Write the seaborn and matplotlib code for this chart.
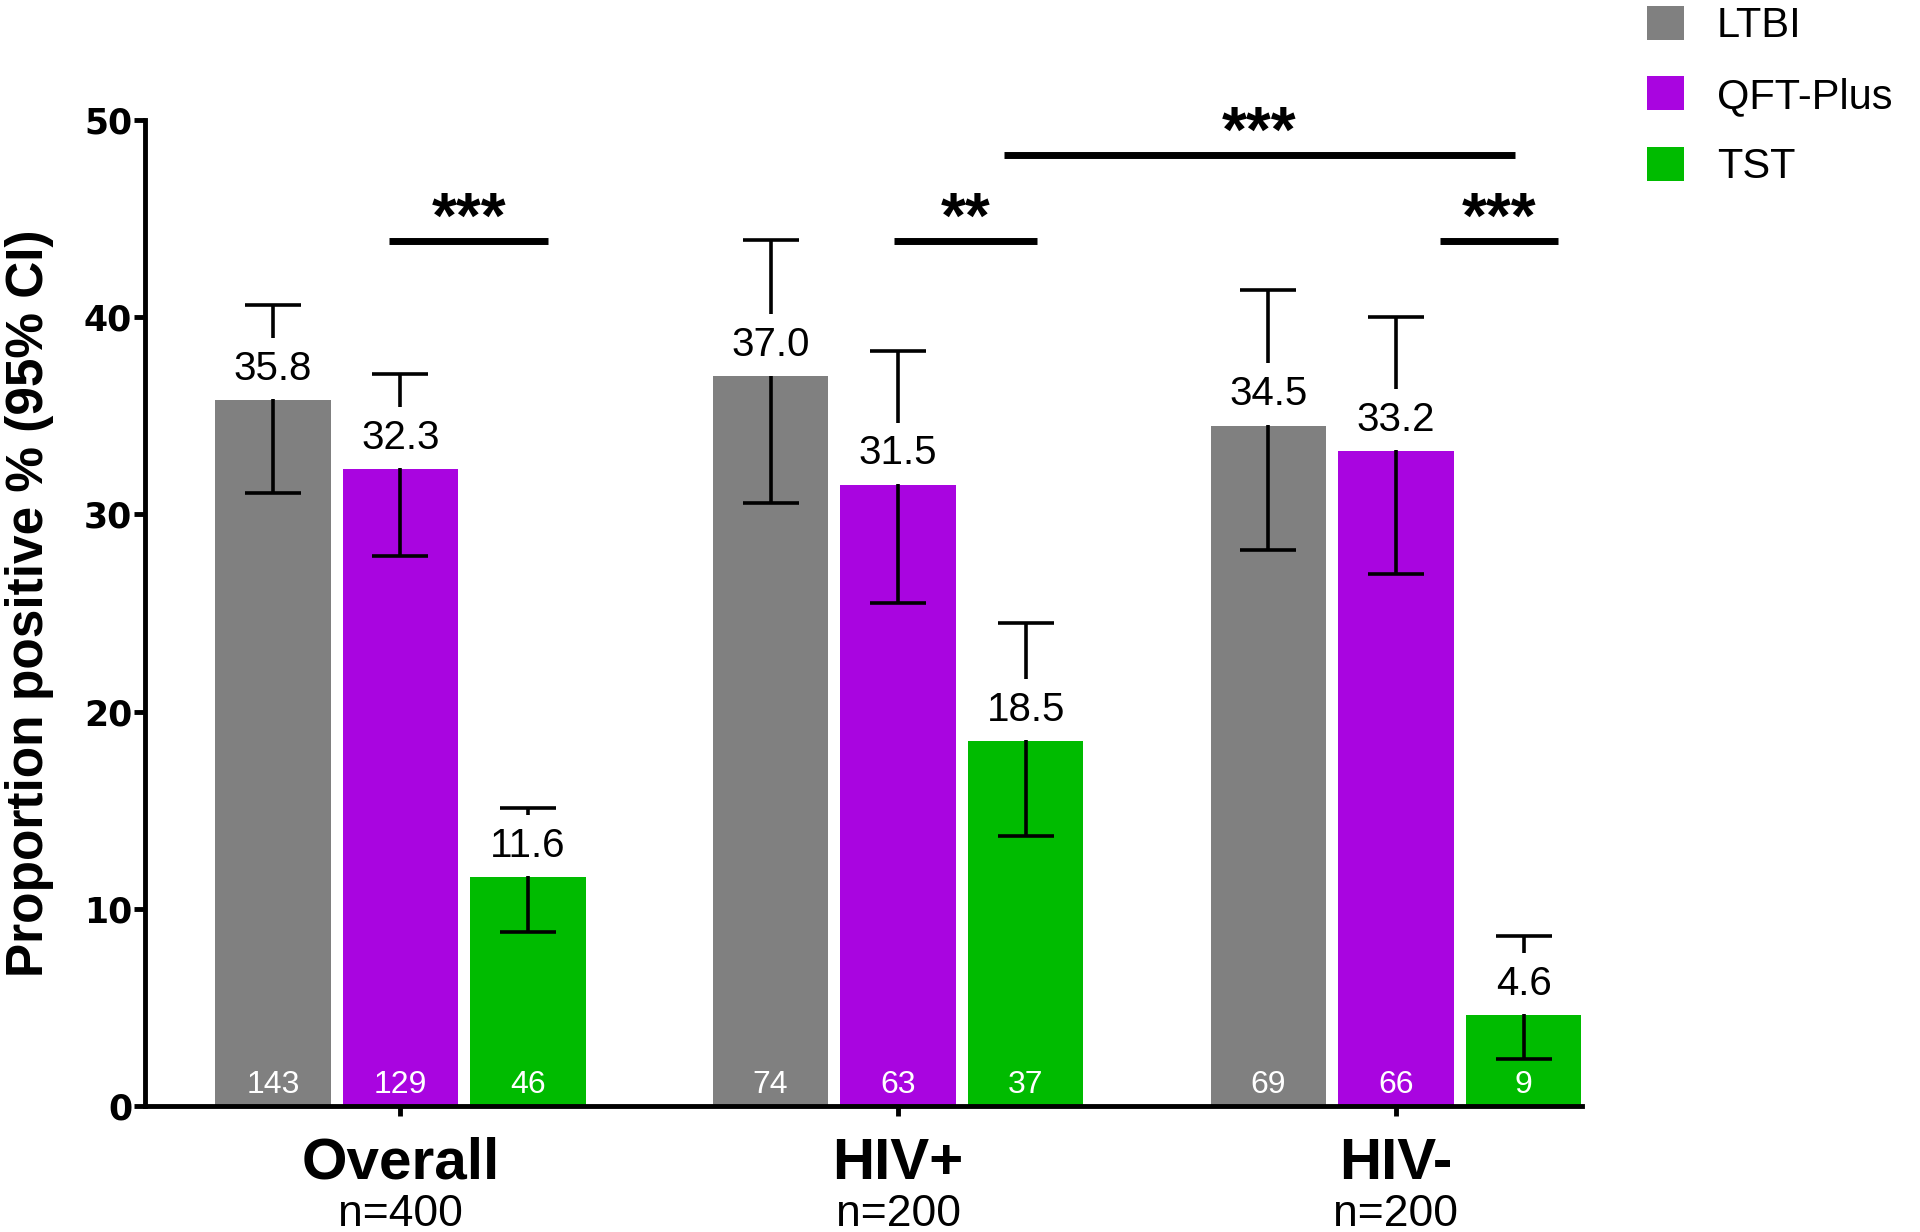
import numpy as np
import pandas as pd
import matplotlib
matplotlib.use("Agg")
import matplotlib.pyplot as plt
import seaborn as sns

# ---------------- data ----------------
groups = ["Overall", "HIV+", "HIV-"]
group_n = ["n=400", "n=200", "n=200"]
tests = ["LTBI", "QFT-Plus", "TST"]

ltbi = [35.8, 37.0, 34.5]
qft = [32.3, 31.5, 33.2]
tst = [11.6, 18.5, 4.6]

ltbi_lo = [31.1, 30.6, 28.2]
ltbi_hi = [40.6, 43.9, 41.4]
qft_lo = [27.9, 25.5, 27.0]
qft_hi = [37.1, 38.3, 40.0]
tst_lo = [8.8, 13.7, 2.4]
tst_hi = [15.1, 24.5, 8.6]

ltbi_n = [143, 74, 69]
qft_n = [129, 63, 66]
tst_n = [46, 37, 9]

# significance brackets
sig_x0 = [-0.022, 0.991, 1.213, 2.088]
sig_x1 = [0.297, 1.279, 2.239, 2.325]
sig_y = [43.85, 43.85, 48.2, 43.85]
sig_labels = ["***", "**", "***", "***"]

colors = ["#808080", "#a905e0", "#00bb00"]

# ---------------- frame ----------------
values = [ltbi, qft, tst]
los = [ltbi_lo, qft_lo, tst_lo]
his = [ltbi_hi, qft_hi, tst_hi]
counts = [ltbi_n, qft_n, tst_n]

rows = []
for t, vals, lo, hi, cn in zip(tests, values, los, his, counts):
    for g, v, l, h, c in zip(groups, vals, lo, hi, cn):
        rows.append(dict(group=g, test=t, value=v, lo=l, hi=h, n=c))
df = pd.DataFrame(rows)

sns.set_style("ticks")
plt.rcParams["font.family"] = ["Liberation Sans", "DejaVu Sans"]
for key in ["text.color", "axes.labelcolor", "xtick.color", "ytick.color",
            "axes.edgecolor"]:
    plt.rcParams[key] = "black"

fig = plt.figure(figsize=(19.2, 12.32), dpi=100)
ax = fig.add_axes([0.0753, 0.1023, 0.824 - 0.0753, 0.9026 - 0.1023])

sns.barplot(data=df, x="group", y="value", hue="test", order=groups,
            hue_order=tests, palette=colors, width=0.769, gap=0.096,
            saturation=1, errorbar=None, linewidth=0, ax=ax, zorder=1)

ax.set_ylim(0, 50)
ax.set_xlim(-0.514, 2.374)

bar_containers = list(ax.containers)[:len(tests)]

label_fs = 29
pad_frac = 0.29
for h, cont in enumerate(bar_containers):
    sub = df[df["test"] == tests[h]].set_index("group").loc[groups]
    for g, bar in enumerate(cont):
        xc = bar.get_x() + bar.get_width() / 2
        v = sub["value"].iloc[g]
        lo = sub["lo"].iloc[g]
        hi = sub["hi"].iloc[g]
        ax.errorbar([xc], [v], yerr=[[v - lo], [hi - v]], fmt="none",
                    ecolor="black", elinewidth=2.6, capsize=20.5,
                    capthick=2.6, zorder=2)
        ax.annotate(f"{v:.1f}", xy=(xc, v), xytext=(0, 9.0),
                    textcoords="offset points", ha="center", va="bottom",
                    fontsize=label_fs, color="black", zorder=3,
                    bbox=dict(boxstyle=f"square,pad={pad_frac}",
                              facecolor="white", edgecolor="none"))
        ax.annotate(f"{int(sub['n'].iloc[g])}", xy=(xc, 0), xytext=(0, 4),
                    textcoords="offset points", ha="center", va="bottom",
                    fontsize=23, color="white", zorder=3)

# significance brackets
for x0, x1, y, lab in zip(sig_x0, sig_x1, sig_y, sig_labels):
    ax.plot([x0, x1], [y, y], color="black", lw=5, solid_capstyle="butt",
            clip_on=False, zorder=4)
    ax.annotate(lab, xy=((x0 + x1) / 2, y), xytext=(0, -7),
                textcoords="offset points", ha="center", va="bottom",
                fontsize=46, fontweight="bold", annotation_clip=False)

# axes styling
sns.despine(ax=ax)
for sp in ["left", "bottom"]:
    ax.spines[sp].set_linewidth(3.5)
ax.set_yticks([0, 10, 20, 30, 40, 50])
ax.set_yticklabels(["0", "10", "20", "30", "40", "50"],
                   fontsize=25, fontweight="bold", family="DejaVu Sans")
ax.tick_params(axis="y", length=8, width=3.5, pad=1)
ax.tick_params(axis="x", length=7, width=3.5, pad=15)
ax.set_xticks(range(len(groups)))
ax.set_xticklabels(groups, fontsize=42, fontweight="bold")
for i, n in enumerate(group_n):
    ax.annotate(n, xy=(i, 0), xycoords=("data", "axes fraction"),
                xytext=(0, -78), textcoords="offset points", ha="center",
                va="center", fontsize=32, annotation_clip=False)
ax.set_xlabel("")
ax.set_ylabel("Proportion positive % (95% CI)", fontsize=37,
              fontweight="bold")
ax.yaxis.set_label_coords(-0.063, 0.51)

# legend
handles, labels = ax.get_legend_handles_labels()
ax.get_legend().remove()
fig.legend(handles, labels, loc="upper left",
           bbox_to_anchor=(0.858, 0.995), frameon=False, fontsize=30,
           handlelength=0.87, handleheight=0.87, handletextpad=0.8,
           labelspacing=0.72, borderpad=0, borderaxespad=0)

fig.savefig("out.png", dpi=100, facecolor="white")
